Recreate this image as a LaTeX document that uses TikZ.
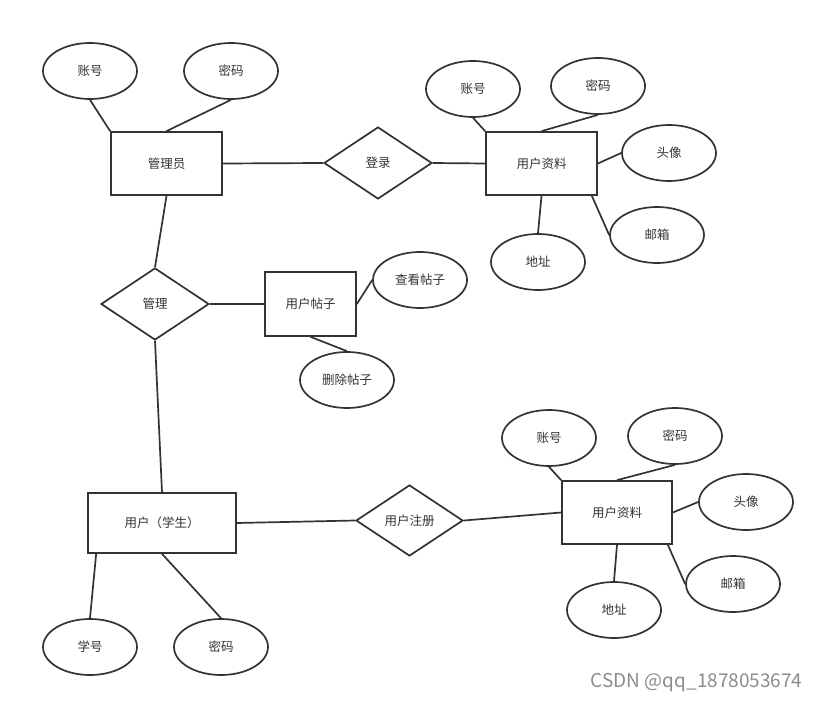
\documentclass[tikz,border=0pt]{standalone}
\usepackage{fontspec}
\setmainfont{Noto Sans CJK SC}
\usetikzlibrary{shapes.geometric}

\begin{document}
\begin{tikzpicture}[x=1pt, y=-1pt,
		entity/.style={rectangle, draw=black!80, fill=white, line width=1.7pt, minimum width=111pt, minimum height=63pt, inner sep=0pt, text=black!80, font=\fontsize{12.5}{15}\selectfont},
		attr/.style={ellipse, draw=black!80, fill=white, line width=1.7pt, minimum width=94pt, minimum height=56pt, inner sep=0pt, text=black!80, font=\fontsize{12.5}{15}\selectfont},
		rel/.style={diamond, aspect=1.5, draw=black!80, fill=white, line width=1.7pt, minimum width=108pt, minimum height=72pt, inner sep=0pt, text=black!80, font=\fontsize{12.5}{15}\selectfont},
		link/.style={draw=black!80, line width=1.7pt}
		]
		\useasboundingbox (0,0) rectangle (821,703);
		
		% Administrator
		\node[entity] (admin) at (166.5,163.5) {管理员};
		\node[attr] (adminacc) at (90,71) {账号};
		\node[attr] (adminpw) at (231,71) {密码};
		\node[rel] (login) at (378,163) {登录};
		
		% Profile (top)
		\node[entity] (info) at (541.5,163.5) {用户资料};
		\node[attr] (infoacc) at (473,89) {账号};
		\node[attr] (infopw) at (598,86) {密码};
		\node[attr] (infoavatar) at (669,153) {头像};
		\node[attr] (infomail) at (657,235) {邮箱};
		\node[attr] (infoaddr) at (538,262) {地址};
		
		% Manage posts
		\node[rel] (manage) at (155,304) {管理};
		\node[entity, minimum width=91pt, minimum height=64pt] (post) at (310.5,304) {用户帖子};
		\node[attr] (postview) at (420,280) {查看帖子};
		\node[attr] (postdel) at (347,380) {删除帖子};
		
		% Student
		\node[entity, minimum width=148pt, minimum height=60pt] (student) at (162,523) {用户（学生）};
		\node[attr] (stuid) at (90,647) {学号};
		\node[attr] (stupw) at (221,647) {密码};
		\node[rel, minimum width=107pt, minimum height=71pt] (register) at (409.5,520.5) {用户注册};
		
		% Profile (bottom)
		\node[entity, minimum width=110pt] (reginfo) at (617,512.5) {用户资料};
		\node[attr] (regacc) at (549,438) {账号};
		\node[attr] (regpw) at (675,436) {密码};
		\node[attr] (regavatar) at (746,502) {头像};
		\node[attr] (regmail) at (733,584) {邮箱};
		\node[attr] (regaddr) at (614,610) {地址};
		
		% Lines
		\draw[link] (adminacc.south) -- (admin.north west);
		\draw[link] (adminpw.south) -- (admin.north);
		\draw[link] (admin.east) -- (login.west);
		\draw[link] (login.east) -- (info.west);
		\draw[link] (infoacc.south) -- (info.north west);
		\draw[link] (infopw.south) -- (info.north);
		\draw[link] (info.east) -- (infoavatar.west);
		\draw[link] (info.south east) ++(-6,0) -- (infomail.west);
		\draw[link] (info.south) -- (infoaddr.north);
		\draw[link] (admin.south) -- (manage.north);
		\draw[link] (manage.east) -- (post.west);
		\draw[link] (post.east) -- (postview.west);
		\draw[link] (post.south) -- (postdel.north);
		\draw[link] (manage.south) -- (student.north);
		\draw[link] (student.east) -- (register.west);
		\draw[link] (register.east) -- (reginfo.west);
		\draw[link] (student.south west) ++(9,0) -- (stuid.north);
		\draw[link] (student.south) -- (stupw.north);
		\draw[link] (regacc.south) -- (reginfo.north west);
		\draw[link] (regpw.south) -- (reginfo.north);
		\draw[link] (reginfo.east) -- (regavatar.west);
		\draw[link] (reginfo.south east) ++(-5,0) -- (regmail.west);
		\draw[link] (reginfo.south) -- (regaddr.north);
		
		\node[anchor=east, text=black!45, font=\fontsize{19}{22}\selectfont] (mark) at (806,683) {CSDN @qq\_1878053674};
		
	\end{tikzpicture}
\end{document}
